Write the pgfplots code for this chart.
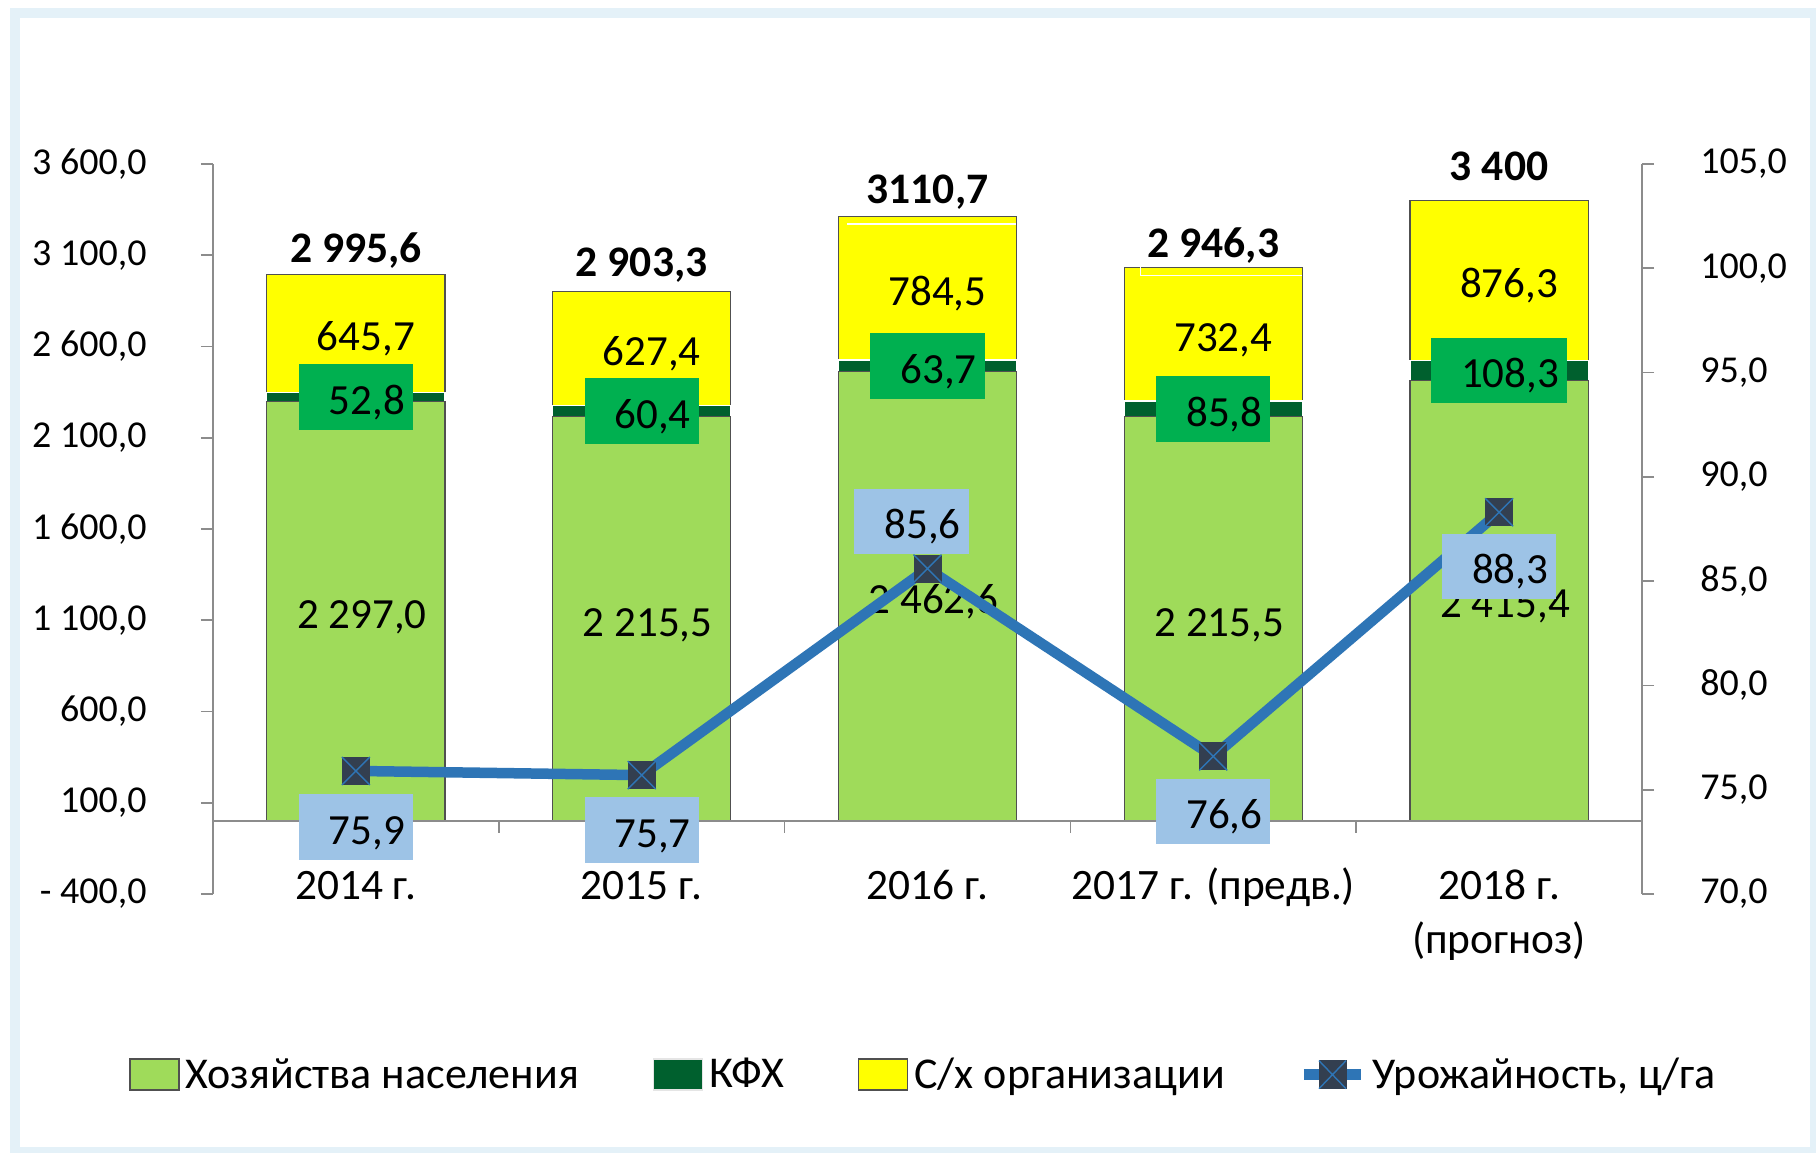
\documentclass[border=0pt]{standalone}
\usepackage{fontspec}
\setmainfont{Carlito}
\usepackage{pgfplots}
\pgfplotsset{compat=1.18}

\definecolor{gr}{HTML}{9FDB5A}
\definecolor{kfx}{HTML}{00602E}
\definecolor{ye}{HTML}{FFFF00}
\definecolor{kfxbox}{HTML}{00B050}
\definecolor{lbox}{HTML}{9DC3E6}
\definecolor{lineblue}{HTML}{2E75B6}
\definecolor{mk}{HTML}{333F50}
\definecolor{framec}{HTML}{E4F1F8}
\definecolor{axgray}{HTML}{8C8C8C}
\definecolor{bedge}{HTML}{505050}

\newcommand{\fdl}{\fontsize{21.5}{26}\selectfont}
\newcommand{\ftot}{\fontsize{21.8}{26}\selectfont\bfseries}
\newcommand{\ftick}{\fontsize{19}{23}\selectfont}
\newcommand{\fx}{\fontsize{21.7}{27}\selectfont}
\newcommand{\fleg}{\fontsize{22}{26}\selectfont}

\pgfdeclareplotmark{sqx}{%
  \pgfsetfillcolor{mk}%
  \pgfpathrectangle{\pgfpoint{-\pgfplotmarksize}{-\pgfplotmarksize}}{\pgfpoint{2\pgfplotmarksize}{2\pgfplotmarksize}}%
  \pgfusepath{fill}%
  \pgfsetstrokecolor{lineblue}\pgfsetlinewidth{0.7pt}%
  \pgfpathmoveto{\pgfpoint{-\pgfplotmarksize}{-\pgfplotmarksize}}%
  \pgfpathlineto{\pgfpoint{\pgfplotmarksize}{\pgfplotmarksize}}%
  \pgfpathmoveto{\pgfpoint{-\pgfplotmarksize}{\pgfplotmarksize}}%
  \pgfpathlineto{\pgfpoint{\pgfplotmarksize}{-\pgfplotmarksize}}%
  \pgfusepath{stroke}%
}

\tikzset{
  kbox/.style={fill=kfxbox, inner sep=0pt, text height=25pt, text depth=7.75pt, font=\fdl, anchor=center},
  lbx/.style={fill=lbox, inner sep=0pt, text height=25pt, text depth=7.75pt, font=\fdl, anchor=center},
  dl/.style={font=\fdl, anchor=base, inner sep=0pt},
  tot/.style={font=\ftot, anchor=base, inner sep=0pt},
}
\pgfplotsset{
  geom/.style={at={(106.5pt,129pt)}, anchor=south west,
    scale only axis, width=714.5pt, height=365pt,
    xmin=-0.5, xmax=4.5, clip=false},
}
\newcommand{\bx}[1]{\hspace*{15pt}#1\hspace*{4pt}}

\begin{document}
\begin{tikzpicture}
\useasboundingbox (0,0) rectangle (908pt,576pt);
\fill[white] (0,0) rectangle (908pt,576pt);
\draw[framec, line width=5pt] (7.5pt,0pt) rectangle (907.5pt,569.5pt);

% ---- bars ----
\begin{axis}[
  geom, ymin=-400, ymax=3600,
  ybar stacked, bar width=89pt,
  axis y line*=left, axis x line*=bottom,
  x axis line style={draw=none},
  y axis line style={axgray, line width=0.8pt},
  xtick={0,1,2,3,4},
  xticklabels={{\strut 2014 г.},{\strut 2015 г.},{\strut 2016 г.},{\strut 2017 г. (предв.)},{\strut 2018 г.\\(прогноз)}},
  xtick style={draw=none},
  xticklabel style={font=\fx, align=center, anchor=north, inner sep=0pt, yshift=22.2pt},
  ytick={-400,100,600,1100,1600,2100,2600,3100,3600},
  yticklabels={{- 400,0},{100,0},{600,0},{1 100,0},{1 600,0},{2 100,0},{2 600,0},{3 100,0},{3 600,0}},
  ytick style={axgray, line width=0.8pt},
  yticklabel style={font=\ftick, anchor=east, inner sep=0pt, xshift=-27pt},
  tick align=outside, major tick length=6pt,
  legend columns=4,
  legend style={draw=none, fill=none, at={(0.497,-0.2475)}, anchor=center, font=\fleg,
    nodes={inner sep=1pt},
    /tikz/every even column/.append style={column sep=36pt},
    /tikz/every odd column/.append style={column sep=2pt}},
  legend cell align=left,
]
\addplot[fill=gr, draw=bedge, line width=0.6pt,
  legend image code/.code={\draw[fill=gr, draw=bedge, line width=0.8pt] (0pt,-7.75pt) rectangle (24.5pt,7.75pt);}]
  coordinates {(0,2297.0) (1,2215.5) (2,2462.6) (3,2215.5) (4,2415.4)};
\addplot[fill=kfx, draw=white, line width=0.6pt,
  legend image code/.code={\draw[fill=kfx, draw=white!80!gray, line width=0.8pt] (0pt,-7.75pt) rectangle (24.5pt,7.75pt);}]
  coordinates {(0,52.8) (1,60.4) (2,63.7) (3,85.8) (4,108.3)};
\addplot[fill=ye, draw=bedge, line width=0.6pt,
  legend image code/.code={\draw[fill=ye, draw=bedge, line width=0.8pt] (0pt,-7.75pt) rectangle (24.5pt,7.75pt);}]
  coordinates {(0,645.7) (1,627.4) (2,784.5) (3,732.4) (4,876.3)};
\addlegendimage{legend image code/.code={%
  \draw[lineblue, line width=5.25pt] (0pt,0pt) -- (28.5pt,0pt);
  \fill[mk] (7.5pt,-7pt) rectangle (21pt,7pt);
  \draw[lineblue, line width=0.7pt] (7.5pt,-7pt) -- (21pt,7pt) (7.5pt,7pt) -- (21pt,-7pt);}}
\legend{Хозяйства населения, КФХ, С/х организации, {Урожайность, ц/га}}
\end{axis}

% ---- bar labels (same scale, drawn over the bars) ----
\begin{axis}[geom, ymin=-400, ymax=3600, hide axis]
\addplot[draw=none] coordinates {(0,0)};
\draw[axgray, line width=0.8pt] (axis cs:-0.5,0) -- (axis cs:4.5,0);
\draw[axgray, line width=0.8pt] (axis cs:0.5,0) -- ++(0pt,-6pt);
\draw[axgray, line width=0.8pt] (axis cs:1.5,0) -- ++(0pt,-6pt);
\draw[axgray, line width=0.8pt] (axis cs:2.5,0) -- ++(0pt,-6pt);
\draw[axgray, line width=0.8pt] (axis cs:3.5,0) -- ++(0pt,-6pt);
% thin white outlines near the tops of the 2016 and 2017 bars
\draw[white, line width=0.9pt] (axis cs:1.72,3271) -- (axis cs:2.31,3271);
\draw[white, line width=0.9pt] (axis cs:2.745,3033.7) -- (axis cs:2.745,2989) -- (axis cs:3.31,2989);
% green labels
\node[dl, xshift=3pt] at (axis cs:0,1053.5) {2 297,0};
\node[dl, xshift=3pt] at (axis cs:1,1012.75) {2 215,5};
\node[dl, xshift=3pt] at (axis cs:2,1136.3) {2 462,6};
\node[dl, xshift=3pt] at (axis cs:3,1012.75) {2 215,5};
\node[dl, xshift=3pt] at (axis cs:4,1112.7) {2 415,4};
% yellow labels
\node[dl, xshift=5pt] at (axis cs:0,2577.65) {645,7};
\node[dl, xshift=5pt] at (axis cs:1,2494.6) {627,4};
\node[dl, xshift=5pt] at (axis cs:2,2823.55) {784,5};
\node[dl, xshift=5pt] at (axis cs:3,2572.5) {732,4};
\node[dl, xshift=5pt] at (axis cs:4,2866.85) {876,3};
% KFX boxes
\node[kbox] at (axis cs:0,2323.4) {\bx{52,8}};
\node[kbox] at (axis cs:1,2245.7) {\bx{60,4}};
\node[kbox] at (axis cs:2,2494.45) {\bx{63,7}};
\node[kbox] at (axis cs:3,2258.4) {\bx{85,8}};
\node[kbox] at (axis cs:4,2469.55) {\bx{108,3}};
% totals
\node[tot] at (axis cs:0,3063) {2 995,6};
\node[tot] at (axis cs:1,2981) {2 903,3};
\node[tot] at (axis cs:2,3386) {3110,7};
\node[tot] at (axis cs:3,3090) {2 946,3};
\node[tot] at (axis cs:4,3512) {3 400};
\end{axis}

% ---- yield line ----
\begin{axis}[
  geom, ymin=70, ymax=105,
  axis y line*=right, axis x line=none,
  y axis line style={axgray, line width=0.8pt},
  ytick={70,75,80,85,90,95,100,105},
  yticklabels={{70,0},{75,0},{80,0},{85,0},{90,0},{95,0},{100,0},{105,0}},
  ytick style={axgray, line width=0.8pt},
  yticklabel style={font=\ftick, anchor=west, inner sep=0pt, xshift=23pt},
  tick align=outside, major tick length=6pt,
]
\addplot[lineblue, line width=5.25pt, line join=round, mark=sqx, mark size=7pt]
  coordinates {(0,75.9) (1,75.7) (2,85.6) (3,76.6) (4,88.3)};
\node[lbx, yshift=-28pt] at (axis cs:0,75.9) {\bx{75,9}};
\node[lbx, yshift=-27.5pt] at (axis cs:1,75.7) {\bx{75,7}};
\node[lbx, xshift=-8pt, yshift=23.5pt] at (axis cs:2,85.6) {\bx{85,6}};
\node[lbx, yshift=-27.5pt] at (axis cs:3,76.6) {\bx{76,6}};
\node[lbx, yshift=-27pt] at (axis cs:4,88.3) {\bx{88,3}};
\end{axis}
\end{tikzpicture}
\end{document}
